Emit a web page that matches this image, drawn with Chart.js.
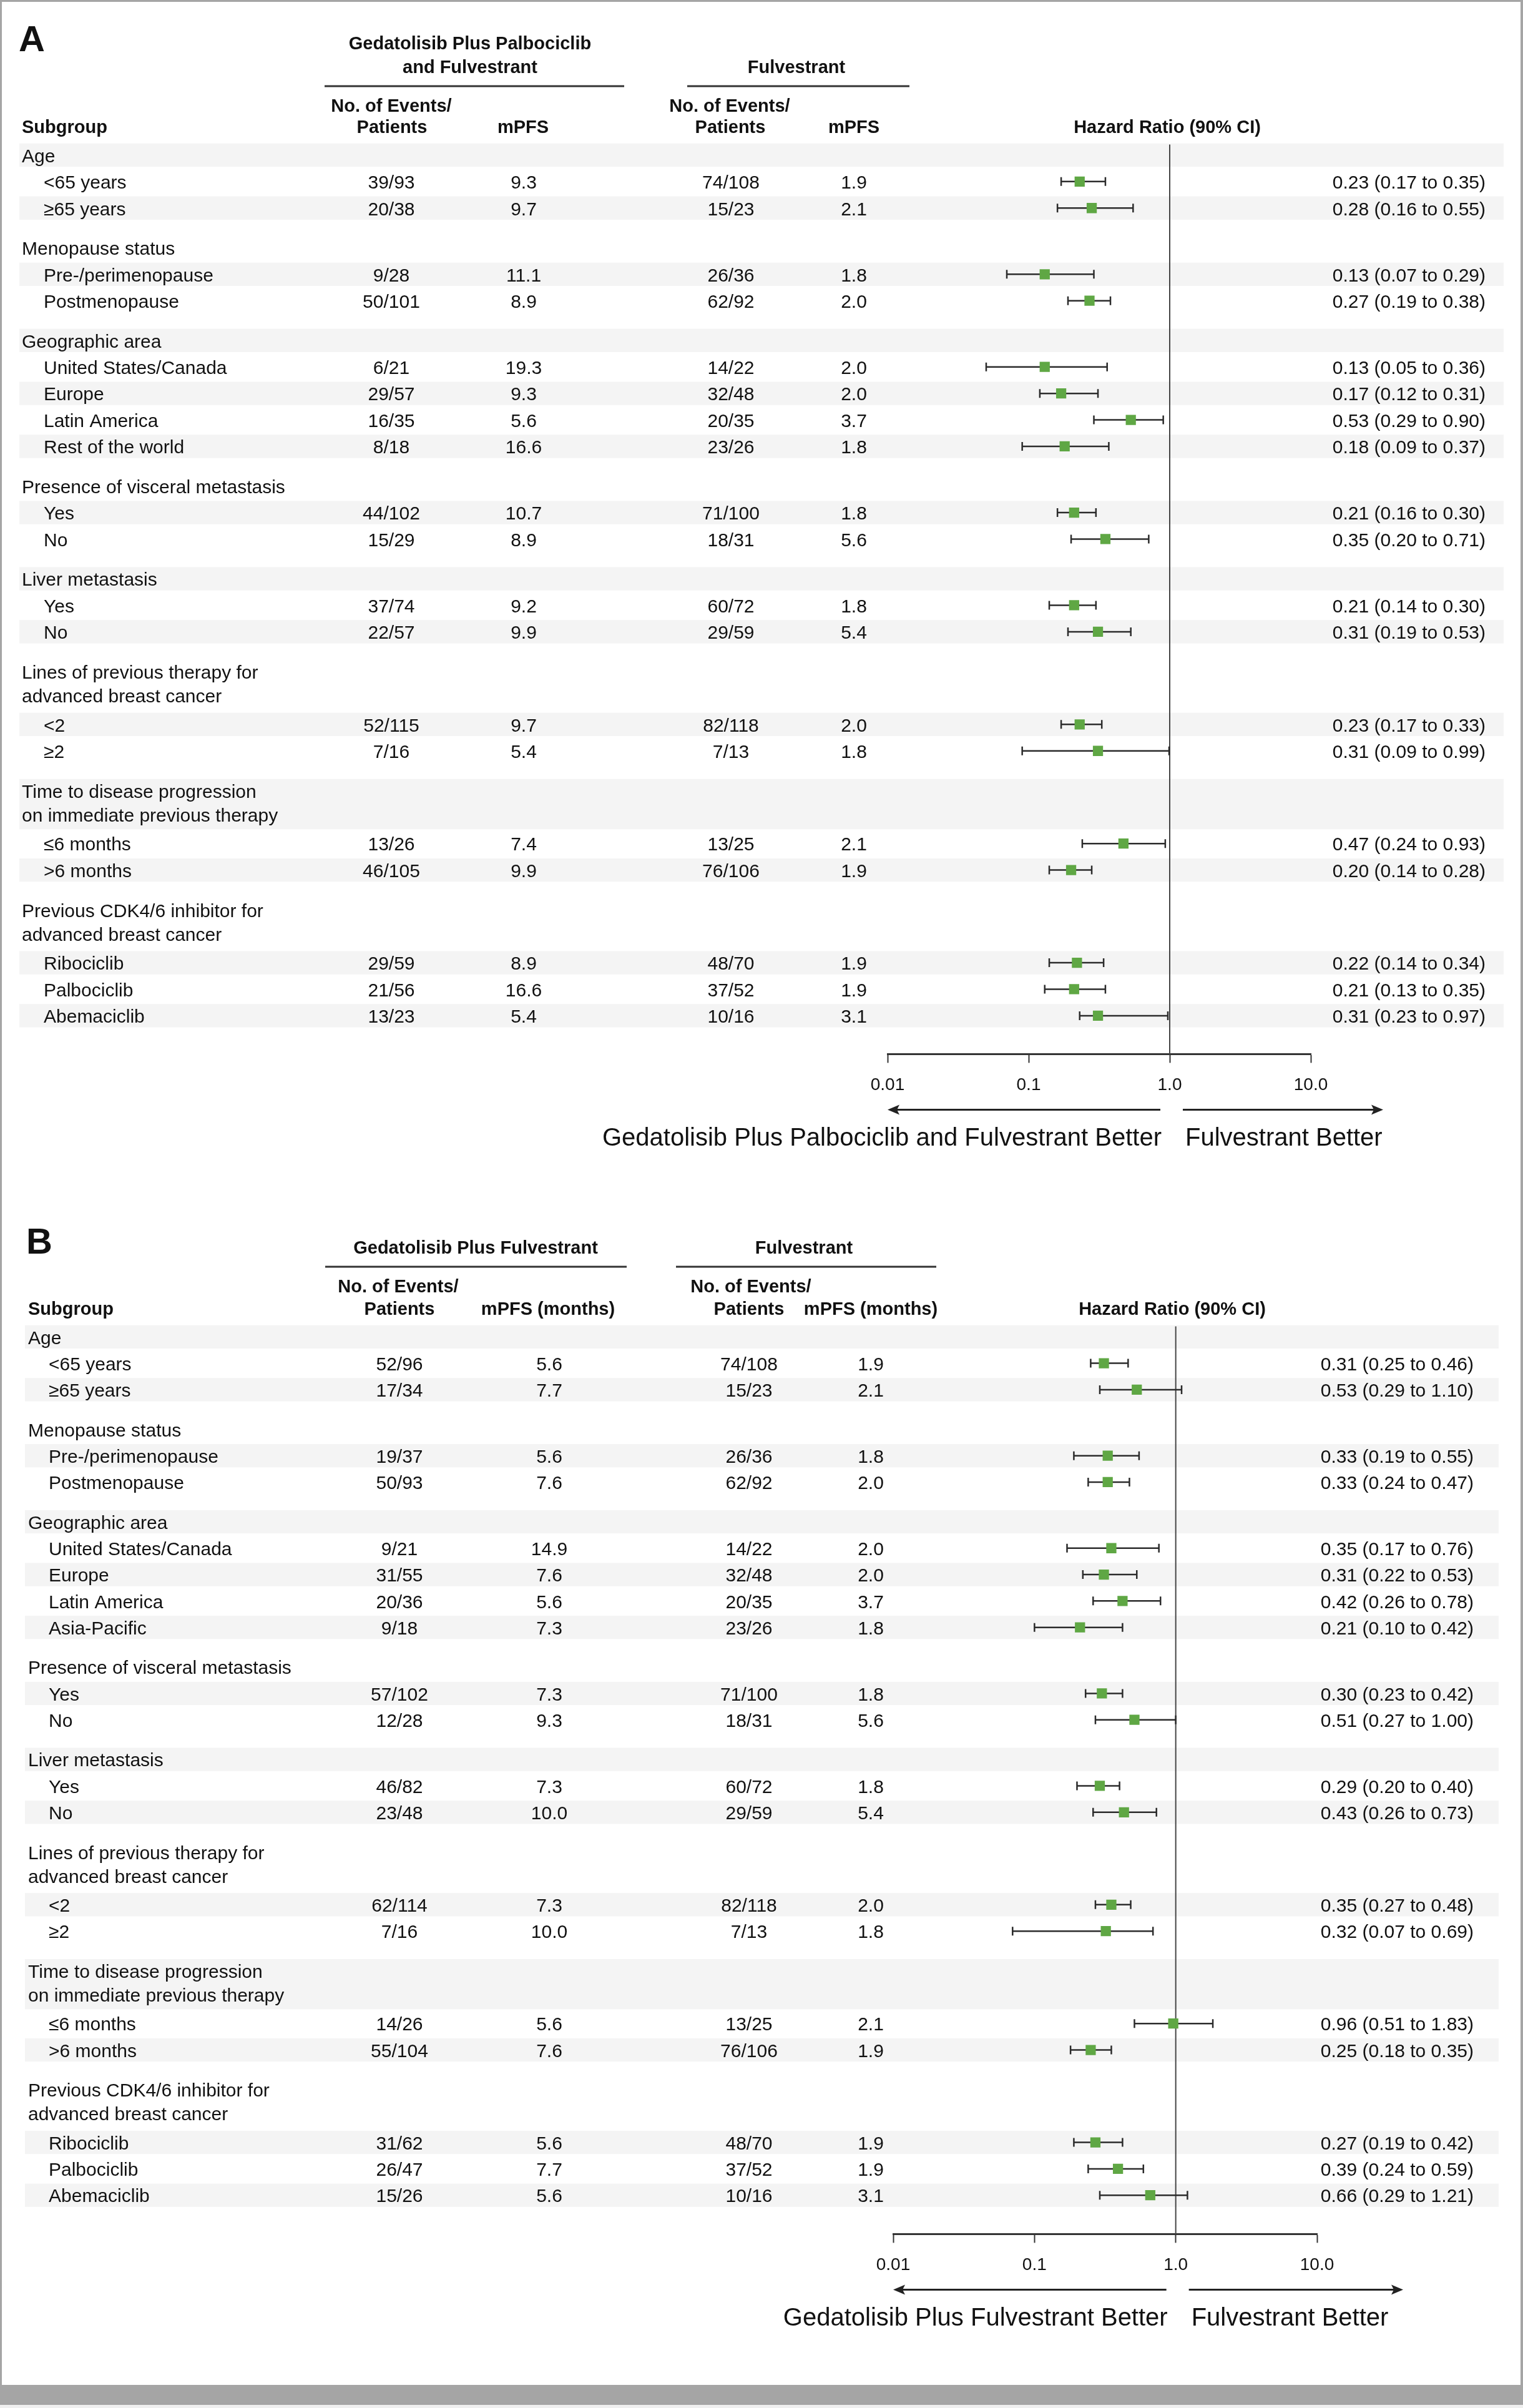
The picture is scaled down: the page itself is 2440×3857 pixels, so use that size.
<!DOCTYPE html>
<html>
<head>
<meta charset="utf-8">
<title>Forest plots</title>
<script src="https://cdn.jsdelivr.net/npm/chart.js@4.4.1/dist/chart.umd.min.js"></script>
<style>
  html, body { margin: 0; padding: 0; background: #fff; }
  #page { position: relative; width: 2440px; height: 3857px; background: #fff; overflow: hidden; }
  canvas { position: absolute; left: 0; }
  .edge { position: absolute; background: #a5a5a5; }
</style>
</head>
<body>
<div id="page">
  <canvas id="chartA" width="2440" height="1900" style="top:0px"></canvas>
  <canvas id="chartB" width="2440" height="1957" style="top:1900px"></canvas>
  <div class="edge" style="left:0;top:0;width:2440px;height:3px"></div>
  <div class="edge" style="left:0;top:0;width:3px;height:3820px"></div>
  <div class="edge" style="right:0;top:0;width:4px;height:3820px"></div>
  <div class="edge" style="left:0;top:3820px;width:2440px;height:32px"></div>
  <div style="position:absolute;left:0;top:3852px;width:2440px;height:5px;background:#efefef"></div>
</div>
<script>
"use strict";

const FONT = "'Liberation Sans', Arial, Helvetica, sans-serif";
Chart.defaults.font.family = FONT;

// Subgroup headings, shared by both panels
const groupTitles = [
  ['Age'],
  ['Menopause status'],
  ['Geographic area'],
  ['Presence of visceral metastasis'],
  ['Liver metastasis'],
  ['Lines of previous therapy for', 'advanced breast cancer'],
  ['Time to disease progression', 'on immediate previous therapy'],
  ['Previous CDK4/6 inhibitor for', 'advanced breast cancer']
];

const itemsA = [
  ['<65 years', '≥65 years'],
  ['Pre-/perimenopause', 'Postmenopause'],
  ['United States/Canada', 'Europe', 'Latin America', 'Rest of the world'],
  ['Yes', 'No'],
  ['Yes', 'No'],
  ['<2', '≥2'],
  ['≤6 months', '>6 months'],
  ['Ribociclib', 'Palbociclib', 'Abemaciclib']
];

const itemsB = [
  ['<65 years', '≥65 years'],
  ['Pre-/perimenopause', 'Postmenopause'],
  ['United States/Canada', 'Europe', 'Latin America', 'Asia-Pacific'],
  ['Yes', 'No'],
  ['Yes', 'No'],
  ['<2', '≥2'],
  ['≤6 months', '>6 months'],
  ['Ribociclib', 'Palbociclib', 'Abemaciclib']
];

// Panel A: gedatolisib plus palbociclib and fulvestrant vs fulvestrant
const eventsTrtA = ['39/93', '20/38', '9/28', '50/101', '6/21', '29/57', '16/35', '8/18', '44/102', '15/29',
  '37/74', '22/57', '52/115', '7/16', '13/26', '46/105', '29/59', '21/56', '13/23'];
const mpfsTrtA = ['9.3', '9.7', '11.1', '8.9', '19.3', '9.3', '5.6', '16.6', '10.7', '8.9',
  '9.2', '9.9', '9.7', '5.4', '7.4', '9.9', '8.9', '16.6', '5.4'];
const eventsCtlA = ['74/108', '15/23', '26/36', '62/92', '14/22', '32/48', '20/35', '23/26', '71/100', '18/31',
  '60/72', '29/59', '82/118', '7/13', '13/25', '76/106', '48/70', '37/52', '10/16'];
const mpfsCtlA = ['1.9', '2.1', '1.8', '2.0', '2.0', '2.0', '3.7', '1.8', '1.8', '5.6',
  '1.8', '5.4', '2.0', '1.8', '2.1', '1.9', '1.9', '1.9', '3.1'];
const hrA = [0.23, 0.28, 0.13, 0.27, 0.13, 0.17, 0.53, 0.18, 0.21, 0.35, 0.21, 0.31, 0.23, 0.31, 0.47, 0.20, 0.22, 0.21, 0.31];
const loA = [0.17, 0.16, 0.07, 0.19, 0.05, 0.12, 0.29, 0.09, 0.16, 0.20, 0.14, 0.19, 0.17, 0.09, 0.24, 0.14, 0.14, 0.13, 0.23];
const hiA = [0.35, 0.55, 0.29, 0.38, 0.36, 0.31, 0.90, 0.37, 0.30, 0.71, 0.30, 0.53, 0.33, 0.99, 0.93, 0.28, 0.34, 0.35, 0.97];

// Panel B: gedatolisib plus fulvestrant vs fulvestrant
const eventsTrtB = ['52/96', '17/34', '19/37', '50/93', '9/21', '31/55', '20/36', '9/18', '57/102', '12/28',
  '46/82', '23/48', '62/114', '7/16', '14/26', '55/104', '31/62', '26/47', '15/26'];
const mpfsTrtB = ['5.6', '7.7', '5.6', '7.6', '14.9', '7.6', '5.6', '7.3', '7.3', '9.3',
  '7.3', '10.0', '7.3', '10.0', '5.6', '7.6', '5.6', '7.7', '5.6'];
const eventsCtlB = ['74/108', '15/23', '26/36', '62/92', '14/22', '32/48', '20/35', '23/26', '71/100', '18/31',
  '60/72', '29/59', '82/118', '7/13', '13/25', '76/106', '48/70', '37/52', '10/16'];
const mpfsCtlB = ['1.9', '2.1', '1.8', '2.0', '2.0', '2.0', '3.7', '1.8', '1.8', '5.6',
  '1.8', '5.4', '2.0', '1.8', '2.1', '1.9', '1.9', '1.9', '3.1'];
const hrB = [0.31, 0.53, 0.33, 0.33, 0.35, 0.31, 0.42, 0.21, 0.30, 0.51, 0.29, 0.43, 0.35, 0.32, 0.96, 0.25, 0.27, 0.39, 0.66];
const loB = [0.25, 0.29, 0.19, 0.24, 0.17, 0.22, 0.26, 0.10, 0.23, 0.27, 0.20, 0.26, 0.27, 0.07, 0.51, 0.18, 0.19, 0.24, 0.29];
const hiB = [0.46, 1.10, 0.55, 0.47, 0.76, 0.53, 0.78, 0.42, 0.42, 1.00, 0.40, 0.73, 0.48, 0.69, 1.83, 0.35, 0.42, 0.59, 1.21];

// Hazard ratio axis
const tickValues = [0.01, 0.1, 1, 10];
const tickLabels = ['0.01', '0.1', '1.0', '10.0'];

const BODY = '30px ' + FONT;
const BOLD = 'bold 29px ' + FONT;
const BIG = '40px ' + FONT;
const GREEN = '#5fa744';
const NUDGE = 3; // text sits a little low in its row

// Row positions in row units: a half-row gap before each group, two-line headings take two rows
function buildLayout(items) {
  const entries = [];
  let pos = 0;
  let k = 0;
  groupTitles.forEach((title, g) => {
    if (g > 0) pos += 0.5;
    entries.push({ kind: 'head', lines: title, pos: pos });
    pos += title.length > 1 ? 2 : 1;
    items[g].forEach(label => {
      entries.push({ kind: 'item', lines: [label], pos: pos, idx: k++ });
      pos += 1;
    });
  });
  return entries;
}

function fmt(v) {
  return v.toFixed(2);
}

function text(ctx, s, x, y, font, align, base) {
  ctx.font = font;
  ctx.textAlign = align || 'left';
  ctx.textBaseline = base || 'middle';
  ctx.fillText(s, x, y);
}

function arrow(ctx, x0, x1, y) {
  // line from x0 to x1 with a head at x1
  const dir = x1 > x0 ? 1 : -1;
  ctx.beginPath();
  ctx.moveTo(x0, y);
  ctx.lineTo(x1 - dir * 12, y);
  ctx.stroke();
  ctx.beginPath();
  ctx.moveTo(x1, y);
  ctx.lineTo(x1 - dir * 19, y - 8);
  ctx.lineTo(x1 - dir * 15, y);
  ctx.lineTo(x1 - dir * 19, y + 8);
  ctx.closePath();
  ctx.fill();
}

function makePanel(cfg) {
  const entries = buildLayout(cfg.items);
  const rows = entries.filter(e => e.kind === 'item');

  const tablePlugin = {
    id: 'forestTable',
    beforeDraw(chart) {
      // alternating row bands
      const ctx = chart.ctx;
      const y = chart.scales.y;
      ctx.save();
      ctx.fillStyle = '#f4f4f4';
      entries.forEach((e, i) => {
        if (i % 2) return;
        const top = y.getPixelForValue(e.pos - 0.44);
        const bot = y.getPixelForValue(e.pos + (e.lines.length > 1 ? 1.46 : 0.44));
        ctx.fillRect(cfg.bandL, top, cfg.bandR - cfg.bandL, bot - top);
      });
      ctx.restore();
    },
    beforeDatasetsDraw(chart) {
      // line of no effect and the confidence intervals
      const ctx = chart.ctx;
      const x = chart.scales.x;
      const y = chart.scales.y;
      ctx.save();
      ctx.strokeStyle = '#444';
      ctx.lineWidth = 2;
      const x1 = x.getPixelForValue(1);
      ctx.beginPath();
      ctx.moveTo(x1, y.getPixelForValue(-0.4));
      ctx.lineTo(x1, chart.chartArea.bottom);
      ctx.stroke();

      ctx.strokeStyle = '#2b2b2b';
      ctx.lineWidth = 2.5;
      rows.forEach(r => {
        const py = y.getPixelForValue(r.pos);
        const a = x.getPixelForValue(cfg.lo[r.idx]);
        const b = x.getPixelForValue(cfg.hi[r.idx]);
        ctx.beginPath();
        ctx.moveTo(a, py); ctx.lineTo(b, py);
        ctx.moveTo(a, py - 7); ctx.lineTo(a, py + 7);
        ctx.moveTo(b, py - 7); ctx.lineTo(b, py + 7);
        ctx.stroke();
      });
      ctx.restore();
    },
    afterDraw(chart) {
      const ctx = chart.ctx;
      const x = chart.scales.x;
      const y = chart.scales.y;
      const h = cfg.head;
      ctx.save();
      ctx.fillStyle = '#111';

      // panel letter and column headings
      text(ctx, cfg.letter, h.letterX, h.letterY, 'bold 58px ' + FONT, 'left', 'alphabetic');
      h.titles.forEach(t => {
        t.lines.forEach((s, i) => text(ctx, s, t.x, t.ys[i], BOLD, 'center'));
      });
      ctx.strokeStyle = '#333';
      ctx.lineWidth = 3;
      h.rules.forEach(r => {
        ctx.beginPath();
        ctx.moveTo(r[0], h.ruleY);
        ctx.lineTo(r[1], h.ruleY);
        ctx.stroke();
      });
      h.sub1.forEach(s => text(ctx, 'No. of Events/', s, h.row1, BOLD, 'center'));
      text(ctx, 'Subgroup', cfg.labelX, h.row2, BOLD, 'left');
      h.sub2.forEach(s => text(ctx, s[0], s[1], h.row2, BOLD, 'center'));

      // table rows
      entries.forEach(e => {
        if (e.kind === 'head') {
          e.lines.forEach((s, i) => text(ctx, s, cfg.labelX, y.getPixelForValue(e.pos + i * 0.9) + NUDGE, BODY, 'left'));
          return;
        }
        const py = y.getPixelForValue(e.pos) + NUDGE;
        const i = e.idx;
        text(ctx, e.lines[0], cfg.subX, py, BODY, 'left');
        text(ctx, cfg.eventsTrt[i], cfg.cols[0], py, BODY, 'center');
        text(ctx, cfg.mpfsTrt[i], cfg.cols[1], py, BODY, 'center');
        text(ctx, cfg.eventsCtl[i], cfg.cols[2], py, BODY, 'center');
        text(ctx, cfg.mpfsCtl[i], cfg.cols[3], py, BODY, 'center');
        text(ctx, fmt(cfg.hr[i]) + ' (' + fmt(cfg.lo[i]) + ' to ' + fmt(cfg.hi[i]) + ')', cfg.hrRight, py, BODY, 'right');
      });

      // direction arrows under the axis
      const base = chart.chartArea.bottom;
      const one = x.getPixelForValue(1);
      ctx.strokeStyle = '#222';
      ctx.fillStyle = '#222';
      ctx.lineWidth = 3;
      arrow(ctx, one - 15, x.getPixelForValue(0.01), base + 89);
      arrow(ctx, one + 21, cfg.rightTip, base + 89);
      ctx.fillStyle = '#111';
      text(ctx, cfg.betterLeft, one - 13, base + 136, BIG, 'right');
      text(ctx, 'Fulvestrant Better', one + 25, base + 136, BIG, 'left');
      ctx.restore();
    }
  };

  return new Chart(document.getElementById(cfg.canvas), {
    type: 'scatter',
    data: {
      datasets: [{
        data: rows.map(r => ({ x: cfg.hr[r.idx], y: r.pos })),
        pointStyle: 'rect',
        pointRadius: 11.5,
        pointHoverRadius: 11.5,
        backgroundColor: GREEN,
        borderWidth: 0
      }]
    },
    options: {
      responsive: false,
      animation: false,
      devicePixelRatio: 1,
      events: [],
      layout: { padding: cfg.padding },
      plugins: {
        legend: { display: false },
        tooltip: { enabled: false }
      },
      scales: {
        x: {
          type: 'logarithmic',
          position: 'bottom',
          min: 0.01,
          max: 10,
          afterBuildTicks: scale => {
            scale.ticks = tickValues.map(v => ({ value: v }));
          },
          ticks: {
            callback: (value, index) => tickLabels[index],
            font: { size: 28 },
            color: '#111',
            padding: 19,
            maxRotation: 0,
            autoSkip: false
          },
          grid: { drawOnChartArea: false, drawTicks: true, tickLength: 14, tickColor: '#333', tickWidth: 2 },
          border: { display: true, color: '#333', width: 3 }
        },
        y: {
          type: 'linear',
          display: false,
          reverse: true,
          min: cfg.yMin,
          max: cfg.yMax
        }
      }
    },
    plugins: [tablePlugin]
  });
}

makePanel({
  canvas: 'chartA',
  letter: 'A',
  items: itemsA,
  eventsTrt: eventsTrtA, mpfsTrt: mpfsTrtA, eventsCtl: eventsCtlA, mpfsCtl: mpfsCtlA,
  hr: hrA, lo: loA, hi: hiA,
  padding: { left: 1422, right: 340, top: 206, bottom: 126 },
  yMin: -1, yMax: 33.95,
  labelX: 35, subX: 70, bandL: 31, bandR: 2409,
  cols: [627, 839, 1171, 1368], hrRight: 2380,
  rightTip: 2216,
  betterLeft: 'Gedatolisib Plus Palbociclib and Fulvestrant Better',
  head: {
    letterX: 30, letterY: 82,
    titles: [
      { lines: ['Gedatolisib Plus Palbociclib', 'and Fulvestrant'], x: 753, ys: [71, 109] },
      { lines: ['Fulvestrant'], x: 1276, ys: [109] }
    ],
    ruleY: 138, rules: [[520, 1000], [1101, 1457]],
    row1: 171, sub1: [627, 1169],
    row2: 205,
    sub2: [['Patients', 628], ['mPFS', 838], ['Patients', 1170], ['mPFS', 1368], ['Hazard Ratio (90% CI)', 1870]]
  }
});

makePanel({
  canvas: 'chartB',
  letter: 'B',
  items: itemsB,
  eventsTrt: eventsTrtB, mpfsTrt: mpfsTrtB, eventsCtl: eventsCtlB, mpfsCtl: mpfsCtlB,
  hr: hrB, lo: loB, hi: hiB,
  padding: { left: 1431, right: 330, top: 199, bottom: 193 },
  yMin: -1, yMax: 33.97,
  labelX: 45, subX: 78, bandL: 40, bandR: 2401,
  cols: [640, 880, 1200, 1395], hrRight: 2361,
  rightTip: 2248,
  betterLeft: 'Gedatolisib Plus Fulvestrant Better',
  head: {
    letterX: 42, letterY: 108,
    titles: [
      { lines: ['Gedatolisib Plus Fulvestrant'], x: 762, ys: [100] },
      { lines: ['Fulvestrant'], x: 1288, ys: [100] }
    ],
    ruleY: 129, rules: [[521, 1004], [1083, 1500]],
    row1: 162, sub1: [638, 1203],
    row2: 198,
    sub2: [['Patients', 640], ['mPFS (months)', 878], ['Patients', 1200], ['mPFS (months)', 1395], ['Hazard Ratio (90% CI)', 1878]]
  }
});
</script>
</body>
</html>
